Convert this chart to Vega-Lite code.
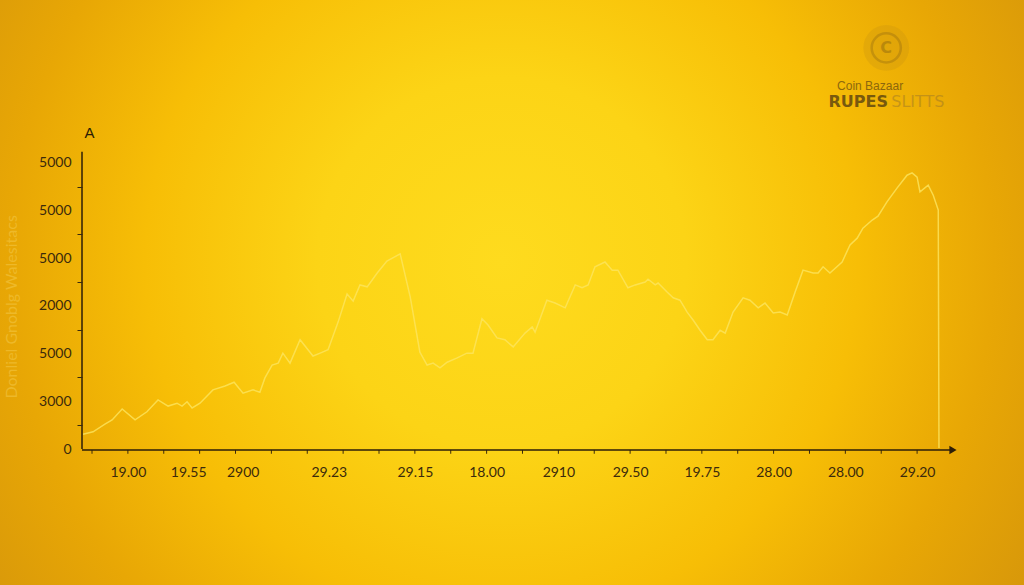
{
  "$schema": "https://vega.github.io/schema/vega-lite/v6.json",
  "width": 1024,
  "height": 585,
  "autosize": {"type": "none"},
  "padding": 0,
  "background": "#D99A0A",
  "config": {"view": {"stroke": null}, "axis": {"labelOverlap": false, "labelFlush": false, "labelBound": false}},
  "datasets": {
    "series": [
      {"t": -0.25, "v": 0.31}, {"t": 0.03, "v": 0.36}, {"t": 0.36, "v": 0.52}, {"t": 0.56, "v": 0.61},
      {"t": 0.84, "v": 0.84}, {"t": 1.2, "v": 0.61}, {"t": 1.53, "v": 0.78}, {"t": 1.84, "v": 1.03},
      {"t": 2.12, "v": 0.9}, {"t": 2.37, "v": 0.96}, {"t": 2.51, "v": 0.9}, {"t": 2.65, "v": 0.99},
      {"t": 2.79, "v": 0.86}, {"t": 3.01, "v": 0.96}, {"t": 3.37, "v": 1.24}, {"t": 3.71, "v": 1.32},
      {"t": 3.96, "v": 1.4}, {"t": 4.21, "v": 1.17}, {"t": 4.49, "v": 1.24}, {"t": 4.68, "v": 1.19},
      {"t": 4.82, "v": 1.49}, {"t": 5.02, "v": 1.76}, {"t": 5.19, "v": 1.8}, {"t": 5.32, "v": 2.01},
      {"t": 5.52, "v": 1.8}, {"t": 5.8, "v": 2.29}, {"t": 6.16, "v": 1.95}, {"t": 6.36, "v": 2.01},
      {"t": 6.58, "v": 2.08}, {"t": 6.86, "v": 2.66}, {"t": 7.11, "v": 3.25}, {"t": 7.28, "v": 3.1},
      {"t": 7.47, "v": 3.44}, {"t": 7.67, "v": 3.4}, {"t": 7.95, "v": 3.69}, {"t": 8.22, "v": 3.94},
      {"t": 8.59, "v": 4.09}, {"t": 8.87, "v": 3.19}, {"t": 9.14, "v": 2.03}, {"t": 9.34, "v": 1.76},
      {"t": 9.51, "v": 1.8}, {"t": 9.7, "v": 1.7}, {"t": 9.9, "v": 1.82}, {"t": 10.18, "v": 1.91},
      {"t": 10.45, "v": 2.01}, {"t": 10.62, "v": 2.01}, {"t": 10.87, "v": 2.73}, {"t": 11.04, "v": 2.6},
      {"t": 11.29, "v": 2.33}, {"t": 11.51, "v": 2.29}, {"t": 11.74, "v": 2.14}, {"t": 12.07, "v": 2.43},
      {"t": 12.27, "v": 2.56}, {"t": 12.35, "v": 2.45}, {"t": 12.68, "v": 3.12}, {"t": 12.91, "v": 3.06},
      {"t": 13.19, "v": 2.96}, {"t": 13.47, "v": 3.44}, {"t": 13.66, "v": 3.38}, {"t": 13.83, "v": 3.44},
      {"t": 14.02, "v": 3.82}, {"t": 14.3, "v": 3.92}, {"t": 14.5, "v": 3.75}, {"t": 14.66, "v": 3.75},
      {"t": 14.94, "v": 3.38}, {"t": 15.14, "v": 3.44}, {"t": 15.42, "v": 3.5}, {"t": 15.5, "v": 3.56},
      {"t": 15.7, "v": 3.44}, {"t": 15.78, "v": 3.48}, {"t": 16.03, "v": 3.29}, {"t": 16.2, "v": 3.17},
      {"t": 16.39, "v": 3.12}, {"t": 16.59, "v": 2.87}, {"t": 16.76, "v": 2.7}, {"t": 16.95, "v": 2.49},
      {"t": 17.15, "v": 2.29}, {"t": 17.31, "v": 2.29}, {"t": 17.51, "v": 2.49}, {"t": 17.65, "v": 2.43},
      {"t": 17.87, "v": 2.87}, {"t": 18.15, "v": 3.17}, {"t": 18.34, "v": 3.12}, {"t": 18.57, "v": 2.96},
      {"t": 18.76, "v": 3.06}, {"t": 18.99, "v": 2.85}, {"t": 19.18, "v": 2.87}, {"t": 19.38, "v": 2.81},
      {"t": 19.6, "v": 3.29}, {"t": 19.82, "v": 3.75}, {"t": 20.1, "v": 3.69}, {"t": 20.24, "v": 3.69},
      {"t": 20.38, "v": 3.82}, {"t": 20.57, "v": 3.69}, {"t": 20.91, "v": 3.92}, {"t": 21.13, "v": 4.28},
      {"t": 21.33, "v": 4.42}, {"t": 21.49, "v": 4.63}, {"t": 21.75, "v": 4.8}, {"t": 21.91, "v": 4.88},
      {"t": 22.16, "v": 5.18}, {"t": 22.44, "v": 5.47}, {"t": 22.72, "v": 5.74}, {"t": 22.86, "v": 5.79},
      {"t": 23.0, "v": 5.7}, {"t": 23.08, "v": 5.39}, {"t": 23.31, "v": 5.53}, {"t": 23.45, "v": 5.32},
      {"t": 23.59, "v": 5.01}, {"t": 23.61, "v": 0.02}
    ],
    "xticks": [
      {"k": 0}, {"k": 1}, {"k": 2}, {"k": 3}, {"k": 4}, {"k": 5}, {"k": 6}, {"k": 7}, {"k": 8}, {"k": 9}, {"k": 10}, {"k": 11},
      {"k": 12}, {"k": 13}, {"k": 14}, {"k": 15}, {"k": 16}, {"k": 17}, {"k": 18}, {"k": 19}, {"k": 20}, {"k": 21}, {"k": 22}, {"k": 23}
    ],
    "one": [{}]
  },
  "layer": [
    {
      "data": {"name": "one"},
      "mark": {
        "type": "rect",
        "color": {
          "gradient": "radial",
          "x1": 0.49, "y1": 0.47, "r1": 0,
          "x2": 0.49, "y2": 0.47, "r2": 0.6,
          "stops": [
            {"offset": 0, "color": "#FEDB1E"},
            {"offset": 0.3, "color": "#FCD416"},
            {"offset": 0.58, "color": "#F7BE06"},
            {"offset": 0.8, "color": "#E8A705"},
            {"offset": 1, "color": "#D8980A"}
          ]
        }
      },
      "encoding": {
        "x": {"datum": -2.565, "type": "quantitative"},
        "x2": {"datum": 25.98},
        "y": {"datum": -2.851, "type": "quantitative"},
        "y2": {"datum": 9.413}
      }
    },
    {
      "data": {"name": "one"},
      "mark": {"type": "text", "text": "Donliel Gnoblg Walesitacs", "angle": 270, "font": "Lato", "fontSize": 16, "color": "#F6CF55", "opacity": 0.45},
      "encoding": {
        "x": {"datum": -2.23, "type": "quantitative"},
        "y": {"datum": 2.98, "type": "quantitative"}
      }
    },
    {
      "data": {"name": "series"},
      "mark": {"type": "line", "color": "#FCE55E", "strokeWidth": 1.5, "opacity": 0.8},
      "encoding": {
        "x": {
          "field": "t", "type": "quantitative",
          "scale": {"domain": [-2.565, 25.98], "nice": false, "zero": false},
          "axis": {
            "orient": "bottom", "offset": -135, "zindex": 1, "domain": false, "grid": false, "title": null, "ticks": false,
            "values": [1, 2.68, 4.2, 6.6, 9, 11, 13, 15, 17, 19, 21, 23],
            "labelExpr": "datum.value==1?'19.00':datum.value==2.68?'19.55':datum.value==4.2?'2900':datum.value==6.6?'29.23':datum.value==9?'29.15':datum.value==11?'18.00':datum.value==13?'2910':datum.value==15?'29.50':datum.value==17?'19.75':datum.value==19?'28.00':datum.value==21?'28.00':'29.20'",
            "labelOverlap": false, "labelFlush": false, "labelBound": false,
            "labelFont": "Lato", "labelFontSize": 14, "labelColor": "#3B2A0C", "labelPadding": 15
          }
        },
        "y": {
          "field": "v", "type": "quantitative",
          "scale": {"domain": [-2.851, 9.413], "nice": false, "zero": false},
          "axis": {
            "orient": "left", "offset": -82, "zindex": 1, "domain": false, "grid": false,
            "title": "A", "titleAngle": 0, "titleX": 2, "titleY": 132, "titleAlign": "left", "titleBaseline": "middle",
            "titleFont": "Liberation Sans", "titleFontSize": 15, "titleFontWeight": "normal", "titleColor": "#2A1C06",
            "values": [0, 0.5, 1, 1.5, 2, 2.5, 3, 3.5, 4, 4.5, 5, 5.5, 6],
            "labelExpr": "datum.value==0?'0':datum.value==1?'3000':datum.value==2?'5000':datum.value==3?'2000':datum.value==4?'5000':datum.value==5?'5000':datum.value==6?'5000':''",
            "labelOverlap": false, "labelFlush": false, "labelBound": false,
            "labelFont": "Lato", "labelFontSize": 14, "labelColor": "#3B2A0C", "labelPadding": 6,
            "tickSize": 5, "tickColor": "#3B2A0C", "tickWidth": 1,
            "tickOpacity": {"condition": {"test": "datum.value % 1 !== 0", "value": 1}, "value": 0}
          }
        }
      }
    },
    {
      "data": {"name": "xticks"},
      "mark": {"type": "rule", "color": "#3B2A0C", "strokeWidth": 1},
      "encoding": {
        "x": {"field": "k", "type": "quantitative"},
        "y": {"datum": -0.02, "type": "quantitative"},
        "y2": {"datum": -0.1}
      }
    },
    {
      "data": {"name": "one"},
      "mark": {"type": "rule", "color": "#2D1E08", "strokeWidth": 1.5},
      "encoding": {
        "x": {"datum": -0.279, "type": "quantitative"},
        "y": {"datum": 0, "type": "quantitative"},
        "y2": {"datum": 6.23}
      }
    },
    {
      "data": {"name": "one"},
      "mark": {"type": "rule", "color": "#2D1E08", "strokeWidth": 1.5},
      "encoding": {
        "x": {"datum": -0.279, "type": "quantitative"},
        "x2": {"datum": 23.95},
        "y": {"datum": -0.02, "type": "quantitative"}
      }
    },
    {
      "data": {"name": "one"},
      "mark": {"type": "point", "shape": "triangle-right", "filled": true, "size": 70, "color": "#2D1E08", "opacity": 1},
      "encoding": {
        "x": {"datum": 24.0, "type": "quantitative"},
        "y": {"datum": -0.02, "type": "quantitative"}
      }
    },
    {
      "data": {"name": "one"},
      "mark": {"type": "point", "shape": "circle", "filled": true, "size": 2100, "color": "#B98A18", "opacity": 0.22},
      "encoding": {
        "x": {"datum": 22.14, "type": "quantitative"},
        "y": {"datum": 8.41, "type": "quantitative"}
      }
    },
    {
      "data": {"name": "one"},
      "mark": {"type": "point", "shape": "circle", "filled": false, "size": 850, "color": "#9A7010", "strokeWidth": 2.5, "opacity": 0.4},
      "encoding": {
        "x": {"datum": 22.14, "type": "quantitative"},
        "y": {"datum": 8.41, "type": "quantitative"}
      }
    },
    {
      "data": {"name": "one"},
      "mark": {"type": "text", "text": "C", "font": "DejaVu Sans", "fontSize": 16, "fontWeight": "bold", "color": "#8A6510", "opacity": 0.45},
      "encoding": {
        "x": {"datum": 22.14, "type": "quantitative"},
        "y": {"datum": 8.41, "type": "quantitative"}
      }
    },
    {
      "data": {"name": "one"},
      "mark": {"type": "text", "text": "Coin Bazaar", "font": "Liberation Sans", "fontSize": 12, "color": "#6B4E10", "opacity": 0.75},
      "encoding": {
        "x": {"datum": 21.69, "type": "quantitative"},
        "y": {"datum": 7.62, "type": "quantitative"}
      }
    },
    {
      "data": {"name": "one"},
      "mark": {"type": "text", "text": "RUPES", "font": "DejaVu Sans", "fontSize": 16, "fontWeight": "bold", "align": "right", "color": "#5A4210", "opacity": 0.8},
      "encoding": {
        "x": {"datum": 22.19, "type": "quantitative"},
        "y": {"datum": 7.28, "type": "quantitative"}
      }
    },
    {
      "data": {"name": "one"},
      "mark": {"type": "text", "text": "SLITTS", "font": "DejaVu Sans", "fontSize": 16, "align": "left", "color": "#8A6A30", "opacity": 0.4},
      "encoding": {
        "x": {"datum": 22.28, "type": "quantitative"},
        "y": {"datum": 7.28, "type": "quantitative"}
      }
    }
  ]
}
